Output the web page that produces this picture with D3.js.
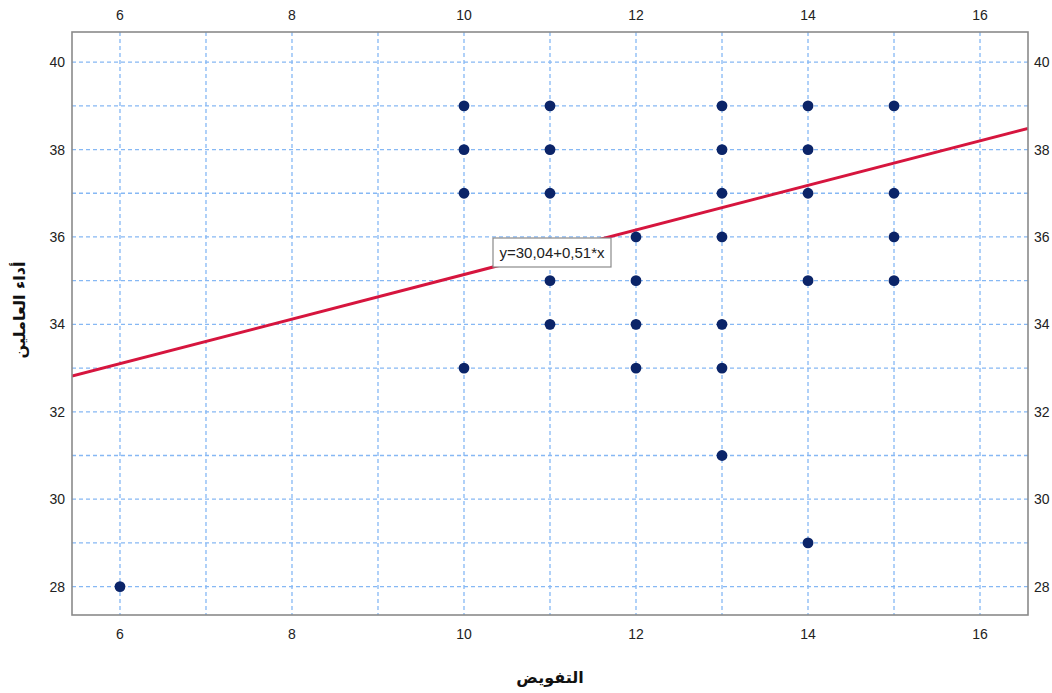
<!DOCTYPE html>
<html><head><meta charset="utf-8">
<script src="https://cdn.jsdelivr.net/npm/d3@7"></script>
<style>body{margin:0;background:#fff}</style>
</head><body>
<script>
const xValues = [6, 10,10,10,10, 11,11,11,11,11, 12,12,12,12, 13,13,13,13,13,13,13, 14,14,14,14,14, 15,15,15,15];
const yValues = [28, 39,38,37,33, 39,38,37,35,34, 36,35,34,33, 39,38,37,36,34,33,31, 39,38,37,35,29, 39,37,36,35];
const xTicks = [6, 8, 10, 12, 14, 16];
const yTicks = [28, 30, 32, 34, 36, 38, 40];
const xGrid = [6,7,8,9,10,11,12,13,14,15,16];
const yGrid = [28,29,30,31,32,33,34,35,36,37,38,39,40];
const fitIntercept = 30.04, fitSlope = 0.51;
const fitLabel = "y=30,04+0,51*x";
const xTitle = "التفويض", yTitle = "أداء العاملين";

const W = 1052, H = 693;
const L = 72, R = 1028, T = 32, B = 615;
const svg = d3.select("body").append("svg").attr("width", W).attr("height", H);
const x = d3.scaleLinear().domain([5.442, 16.558]).range([L, R]);
const y = d3.scaleLinear().domain([27.35, 40.69]).range([B, T]);
const font = "'Liberation Sans', Arial, sans-serif";

svg.append("clipPath").attr("id","c").append("rect").attr("x",L).attr("y",T).attr("width",R-L).attr("height",B-T);
const g = svg.append("g").attr("clip-path","url(#c)");
g.selectAll(".gx").data(xGrid).join("line").attr("x1",d=>x(d)).attr("x2",d=>x(d)).attr("y1",T).attr("y2",B)
  .attr("stroke","#86b8f4").attr("stroke-width",1.3).attr("stroke-dasharray","4,3");
g.selectAll(".gy").data(yGrid).join("line").attr("y1",d=>y(d)).attr("y2",d=>y(d)).attr("x1",L).attr("x2",R)
  .attr("stroke","#86b8f4").attr("stroke-width",1.3).attr("stroke-dasharray","4,3");

const xd = x.domain();
g.append("line").attr("x1",x(xd[0])).attr("y1",y(fitIntercept+fitSlope*xd[0]))
  .attr("x2",x(xd[1])).attr("y2",y(fitIntercept+fitSlope*xd[1]))
  .attr("stroke","#d6153e").attr("stroke-width",3);

g.selectAll("circle").data(xValues.map((v,i)=>[v,yValues[i]])).join("circle")
  .attr("cx",d=>x(d[0])).attr("cy",d=>y(d[1])).attr("r",5.4).attr("fill","#0b2468");

svg.append("rect").attr("x",L).attr("y",T).attr("width",R-L).attr("height",B-T)
  .attr("fill","none").attr("stroke","#8a8a8a").attr("stroke-width",1.6);

const ax = svg.append("g").attr("font-family",font).attr("font-size",14).attr("fill","#222");
ax.selectAll(".tb").data(xTicks).join("text").attr("x",d=>x(d)).attr("y",639).attr("text-anchor","middle").text(d=>d);
ax.selectAll(".tt").data(xTicks).join("text").attr("x",d=>x(d)).attr("y",20).attr("text-anchor","middle").text(d=>d);
ax.selectAll(".tl").data(yTicks).join("text").attr("x",65).attr("y",d=>y(d)+5).attr("text-anchor","end").text(d=>d);
ax.selectAll(".tr").data(yTicks).join("text").attr("x",1034).attr("y",d=>y(d)+5).attr("text-anchor","start").text(d=>d);

const bx = 493, by = 238;
svg.append("rect").attr("x",bx).attr("y",by).attr("width",118).attr("height",29)
  .attr("fill","#fff").attr("stroke","#8a8a8a").attr("stroke-width",1.2);
svg.append("text").attr("x",bx+59).attr("y",by+20).attr("text-anchor","middle")
  .attr("font-family",font).attr("font-size",15).attr("fill","#222").text(fitLabel);

svg.append("text").attr("x",550).attr("y",683).attr("text-anchor","middle")
  .attr("font-family","'DejaVu Sans', sans-serif").attr("font-weight","bold").attr("font-size",16).attr("fill","#111").text(xTitle);
svg.append("text").attr("transform","translate(25,310) rotate(-90)").attr("text-anchor","middle")
  .attr("font-family","'DejaVu Sans', sans-serif").attr("font-weight","bold").attr("font-size",16).attr("fill","#111").text(yTitle);
</script>
</body></html>
